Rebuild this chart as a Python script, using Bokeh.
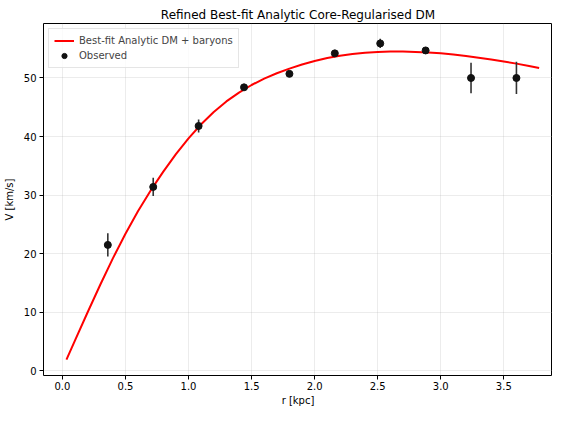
import numpy as np
from bokeh.plotting import figure
from bokeh.models import ColumnDataSource, Legend, LegendItem, FixedTicker, NumeralTickFormatter, Range1d
from bokeh.embed import file_html
from bokeh.resources import INLINE

# Observed data
r_obs = [0.36, 0.72, 1.08, 1.44, 1.80, 2.16, 2.52, 2.88, 3.24, 3.60]
v_obs = [21.5, 31.4, 41.8, 48.4, 50.7, 54.2, 55.9, 54.7, 50.0, 50.0]
v_err = [2.0, 1.55, 1.1, 0.5, 0.4, 0.5, 0.8, 0.6, 2.6, 2.75]

# Best-fit model curve
r_fit = [0.032, 0.1, 0.2, 0.3, 0.4, 0.5, 0.6, 0.7, 0.8, 0.9, 1.0, 1.1, 1.2, 1.3,
         1.4, 1.5, 1.6, 1.7, 1.8, 1.9, 2.0, 2.1, 2.2, 2.3, 2.4, 2.5, 2.6, 2.7,
         2.8, 2.9, 3.0, 3.1, 3.2, 3.3, 3.4, 3.5, 3.6, 3.7, 3.78]
v_fit = [1.9, 5.2, 10.0, 14.7, 19.2, 23.4, 27.3, 30.8, 34.0, 37.0, 39.7, 42.1, 44.2, 46.0,
         47.5, 48.8, 49.9, 50.8, 51.6, 52.3, 52.9, 53.4, 53.8, 54.1, 54.3, 54.45, 54.5, 54.5,
         54.45, 54.35, 54.2, 54.0, 53.75, 53.45, 53.15, 52.8, 52.45, 52.05, 51.7]

x_ticks = [0.0, 0.5, 1.0, 1.5, 2.0, 2.5, 3.0, 3.5]
y_ticks = [0, 10, 20, 30, 40, 50]

FONT = "DejaVu Sans"

p = figure(width=552, height=408, output_backend="svg", toolbar_location=None,
           title="Refined Best-fit Analytic Core-Regularised DM",
           x_range=Range1d(-0.150, 3.886), y_range=Range1d(-0.8, 59.3),
           min_border_left=41, min_border_right=0, min_border_top=23, min_border_bottom=32)

p.title.align = "center"
p.title.text_font = FONT
p.title.text_font_size = "12px"
p.title.text_font_style = "normal"
p.title.text_color = "black"
p.title.standoff = 4

p.outline_line_color = "black"
p.outline_line_width = 1
p.background_fill_color = "white"
p.border_fill_color = "white"

for ax in (p.xaxis[0], p.yaxis[0]):
    ax.axis_line_color = None
    ax.major_tick_line_color = "black"
    ax.major_tick_out = 4
    ax.major_tick_in = 0
    ax.minor_tick_line_color = None
    ax.major_label_text_font = FONT
    ax.major_label_text_font_size = "10px"
    ax.major_label_text_color = "black"
    ax.axis_label_text_font = FONT
    ax.axis_label_text_font_size = "10px"
    ax.axis_label_text_font_style = "normal"
    ax.axis_label_text_color = "black"
    ax.major_label_standoff = 2
    ax.axis_label_standoff = 2

p.yaxis[0].major_label_standoff = 3
p.yaxis[0].axis_label_standoff = 6

p.xaxis.ticker = FixedTicker(ticks=x_ticks)
p.yaxis.ticker = FixedTicker(ticks=y_ticks)
p.xaxis.formatter = NumeralTickFormatter(format="0.0")
p.xaxis.axis_label = "r [kpc]"
p.yaxis.axis_label = "V [km/s]"

p.xgrid.grid_line_color = "#b0b0b0"
p.ygrid.grid_line_color = "#b0b0b0"
p.xgrid.grid_line_alpha = 0.3
p.ygrid.grid_line_alpha = 0.3
p.xgrid.grid_line_width = 0.8
p.ygrid.grid_line_width = 0.8

fit_src = ColumnDataSource(dict(x=r_fit, y=v_fit))
line = p.line("x", "y", source=fit_src, line_color="red", line_width=2)

r_arr = np.array(r_obs)
v_arr = np.array(v_obs)
e_arr = np.array(v_err)
obs_src = ColumnDataSource(dict(x=r_arr, y=v_arr, lo=v_arr - e_arr, hi=v_arr + e_arr))
seg = p.segment(x0="x", y0="lo", x1="x", y1="hi", source=obs_src, line_color="#333333", line_width=1.6)
sc = p.scatter("x", "y", source=obs_src, size=7, fill_color="#111111", line_color="#111111")

legend = Legend(items=[LegendItem(label="Best-fit Analytic DM + baryons", renderers=[line]),
                       LegendItem(label="Observed", renderers=[sc])],
                location="top_left")
legend.label_text_font = FONT
legend.label_text_font_size = "10px"
legend.label_height = 13
legend.glyph_height = 13
legend.glyph_width = 20
legend.spacing = 2
legend.padding = 5
legend.margin = 5
legend.border_line_color = "#cccccc"
legend.border_line_width = 1
legend.background_fill_alpha = 0.8
p.add_layout(legend)

open("out.html", "w").write(file_html(p, INLINE))
